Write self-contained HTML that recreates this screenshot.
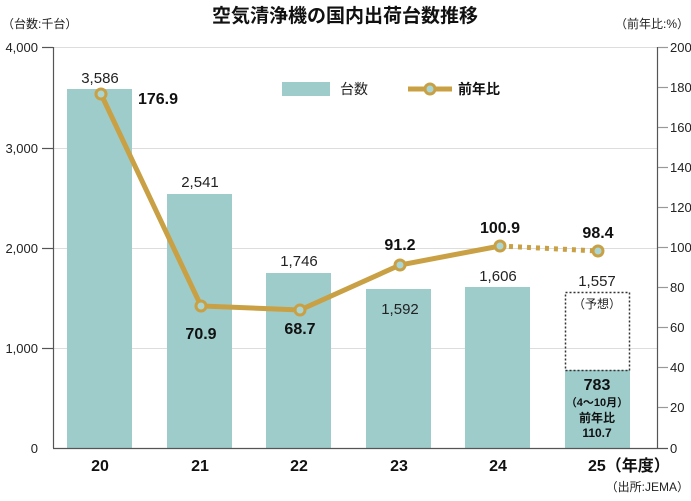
<!DOCTYPE html>
<html><head><meta charset="utf-8"><style>
body{margin:0;background:#fff}
svg text{font-family:"Liberation Sans","Noto Sans CJK JP",sans-serif}
</style></head><body>
<svg width="691" height="496" viewBox="0 0 691 496" xmlns="http://www.w3.org/2000/svg">
<text x="345" y="22" font-size="19" font-weight="bold" text-anchor="middle" fill="#111">空気清浄機の国内出荷台数推移</text>
<text x="2" y="28" font-size="12" fill="#222">（台数:千台）</text>
<text x="689" y="28" font-size="12" fill="#222" text-anchor="end">（前年比:%）</text>
<g stroke="#ddd" stroke-width="1">
<line x1="53" y1="47.5" x2="658" y2="47.5"/><line x1="53" y1="148.5" x2="658" y2="148.5"/>
<line x1="53" y1="248.5" x2="658" y2="248.5"/><line x1="53" y1="348.5" x2="658" y2="348.5"/>
</g>
<g fill="#9dcccb">
<rect x="67" y="89" width="65" height="359"/><rect x="167" y="194" width="65" height="254"/>
<rect x="266" y="273" width="65" height="175"/><rect x="366" y="289" width="65" height="159"/>
<rect x="465" y="287" width="65" height="161"/><rect x="565" y="370" width="65" height="78"/>
</g>
<rect x="565.5" y="292.5" width="64" height="78" fill="none" stroke="#333" stroke-width="1.5" stroke-dasharray="2,2"/>
<g stroke="#555" stroke-width="1.2">
<line x1="53.5" y1="47" x2="53.5" y2="448"/><line x1="657.5" y1="47" x2="657.5" y2="448"/>
<line x1="53" y1="448.5" x2="668" y2="448.5"/>
<line x1="42" y1="47.5" x2="53" y2="47.5"/><line x1="42" y1="148.5" x2="53" y2="148.5"/><line x1="42" y1="248.5" x2="53" y2="248.5"/><line x1="42" y1="348.5" x2="53" y2="348.5"/>
</g>
<g stroke="#999" stroke-width="1.2">
<line x1="658" y1="47.5" x2="668" y2="47.5"/><line x1="658" y1="87.5" x2="668" y2="87.5"/><line x1="658" y1="127.5" x2="668" y2="127.5"/><line x1="658" y1="167.5" x2="668" y2="167.5"/><line x1="658" y1="207.5" x2="668" y2="207.5"/><line x1="658" y1="247.5" x2="668" y2="247.5"/><line x1="658" y1="287.5" x2="668" y2="287.5"/><line x1="658" y1="327.5" x2="668" y2="327.5"/><line x1="658" y1="367.5" x2="668" y2="367.5"/><line x1="658" y1="407.5" x2="668" y2="407.5"/>
</g>
<g font-size="13" fill="#222" text-anchor="end">
<text x="38" y="52">4,000</text><text x="38" y="153">3,000</text><text x="38" y="253">2,000</text><text x="38" y="353">1,000</text><text x="38" y="453">0</text>
</g>
<g font-size="13" fill="#222">
<text x="670" y="52">200</text><text x="670" y="92">180</text><text x="670" y="132">160</text><text x="670" y="172">140</text><text x="670" y="212">120</text><text x="670" y="252">100</text><text x="670" y="292">80</text><text x="670" y="332">60</text><text x="670" y="372">40</text><text x="670" y="412">20</text><text x="670" y="453">0</text>
</g>
<g font-size="15" fill="#222" text-anchor="middle">
<text x="100" y="83">3,586</text><text x="200" y="187">2,541</text><text x="299" y="266">1,746</text><text x="400" y="314">1,592</text><text x="498" y="281">1,606</text><text x="597" y="286">1,557</text>
</g>
<text x="597" y="308" font-size="12" text-anchor="middle" fill="#222">（予想）</text>
<text x="597" y="390" font-size="16" font-weight="bold" text-anchor="middle" fill="#111">783</text>
<text x="597" y="406" font-size="11" font-weight="bold" text-anchor="middle" fill="#111">（4～10月）</text>
<text x="597" y="422" font-size="12" font-weight="bold" text-anchor="middle" fill="#111">前年比</text>
<text x="597" y="437" font-size="12" font-weight="bold" text-anchor="middle" fill="#111">110.7</text>
<polyline points="101,94 201,306 300,310 400,265 500,246" fill="none" stroke="#c9a043" stroke-width="5"/>
<line x1="500" y1="246" x2="598" y2="251" stroke="#c9a043" stroke-width="5" stroke-dasharray="4,5"/>
<g fill="#a9d6d4" stroke="#c9a043" stroke-width="3">
<circle cx="101" cy="94" r="5"/><circle cx="201" cy="306" r="5"/><circle cx="300" cy="310" r="5"/><circle cx="400" cy="265" r="5"/><circle cx="500" cy="246" r="5"/><circle cx="598" cy="251" r="5"/>
</g>
<g font-size="16" font-weight="bold" fill="#111" text-anchor="middle">
<text x="158" y="104">176.9</text><text x="201" y="339">70.9</text><text x="300" y="334">68.7</text><text x="400" y="250">91.2</text><text x="500" y="233">100.9</text><text x="598" y="238">98.4</text>
</g>
<rect x="282" y="82" width="48" height="14" fill="#9dcccb"/>
<text x="340" y="94" font-size="14" fill="#222">台数</text>
<line x1="408" y1="89" x2="452" y2="89" stroke="#c9a043" stroke-width="5"/>
<circle cx="430" cy="89" r="5" fill="#a9d6d4" stroke="#c9a043" stroke-width="3"/>
<text x="458" y="94" font-size="14" font-weight="bold" fill="#111">前年比</text>
<g font-size="16" font-weight="bold" fill="#111" text-anchor="middle">
<text x="100" y="471">20</text><text x="200" y="471">21</text><text x="299" y="471">22</text><text x="399" y="471">23</text><text x="498" y="471">24</text>
</g>
<text x="588" y="471" font-size="16" font-weight="bold" fill="#111">25（年度）</text>
<text x="689" y="491" font-size="12" fill="#222" text-anchor="end">（出所:JEMA）</text>
</svg>
</body></html>
